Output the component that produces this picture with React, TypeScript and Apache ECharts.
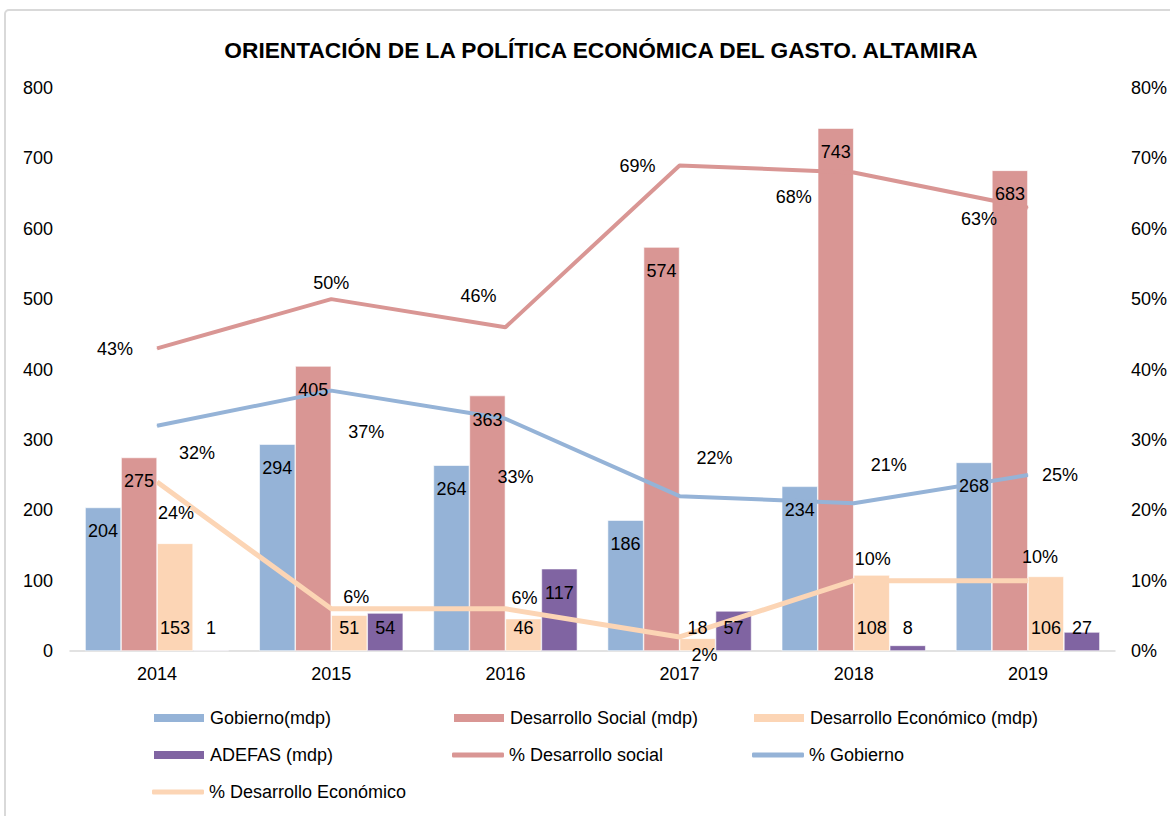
import React, { useEffect, useRef } from "react";
import * as echarts from "echarts";

const years = ["2014", "2015", "2016", "2017", "2018", "2019"];
const gobierno = [204, 294, 264, 186, 234, 268];
const social = [275, 405, 363, 574, 743, 683];
const economico = [153, 51, 46, 18, 108, 106];
const adefas = [1, 54, 117, 57, 8, 27];
const pctSocial = [43, 50, 46, 69, 68, 63];
const pctGobierno = [32, 37, 33, 22, 21, 25];
const pctEconomico = [24, 6, 6, 2, 10, 10];

// label offsets (styling only)
const offSocial = [[-42, 1], [0, -16], [-27, -31], [-42, 1], [-60, 25], [-49, 11]];
const offGobierno = [[40, 27], [35, 41], [10, 58], [35, -38], [35, -38], [32, 0]];
const offEconomico = [[19, 31], [25, -12], [19, -11], [25, 18], [19, -22], [12, -24]];

const C_GOB = "#95B3D7";
const C_SOC = "#D99694";
const C_ECO = "#FCD5B5";
const C_ADE = "#8064A2";
const FONT = "'Liberation Sans', Arial, sans-serif";
const FS = 18;

export default function App() {
  const ref = useRef<HTMLDivElement>(null);
  useEffect(() => {
    if (!ref.current) return;
    const chart = echarts.init(ref.current, null, { renderer: "svg" });
    const lbl = { color: "#000", fontSize: FS, fontFamily: FONT };
    const barBase = (name: string, color: string, data: number[]) => ({
      name,
      type: "bar",
      data,
      barWidth: 36,
      barGap: "0%",
      itemStyle: { color, borderColor: "#fff", borderWidth: 0.6 },
      label: { show: false },
    });
    // transparent twin bars on a hidden axis carrying the value labels above the lines
    const labelBar = (id: string, data: any[], pos: string, dist: number) => ({
      id,
      type: "bar",
      xAxisIndex: 1,
      data,
      barWidth: 36,
      barGap: "0%",
      silent: true,
      z: 10,
      itemStyle: { color: "rgba(0,0,0,0)", borderWidth: 0 },
      label: { show: true, position: pos, distance: dist, ...lbl },
      tooltip: { show: false },
    });
    const lineBase = (name: string, color: string, vals: number[], offs: number[][], width: number) => ({
      name,
      type: "line",
      yAxisIndex: 1,
      data: vals.map((v, i) => ({ value: v, label: { offset: offs[i] } })),
      symbol: "circle",
      symbolSize: 1,
      itemStyle: { color },
      lineStyle: { color, width },
      label: { show: true, position: "inside", formatter: "{c}%", ...lbl },
      z: 5,
    });
    const legendItem = (name: string, left: number, top: number, icon: string, h: number) => ({
      left,
      top: top - 10,
      padding: 0,
      itemWidth: 52,
      itemHeight: h,
      selectedMode: false,
      textStyle: { color: "#000", fontSize: FS, fontFamily: FONT, lineHeight: 20 },
      data: [{ name, icon }],
    });
    chart.setOption({
      animation: false,
      backgroundColor: "#fff",
      title: {
        text: "ORIENTACIÓN DE LA POLÍTICA ECONÓMICA DEL GASTO. ALTAMIRA",
        left: 596,
        textAlign: "center",
        top: 33,
        textStyle: { fontSize: 22.7, fontWeight: "bold", color: "#000", fontFamily: FONT },
      },
      graphic: [
        {
          type: "rect",
          shape: { x: 5, y: 10, width: 1200, height: 900, r: 4 },
          style: { fill: "none", stroke: "#d9d9d9", lineWidth: 2 },
          silent: true,
          z: -10,
        },
      ],
      legend: [
        legendItem("Gobierno(mdp)", 152, 718, "rect", 10),
        legendItem("Desarrollo Social (mdp)", 452, 718, "rect", 10),
        legendItem("Desarrollo Económico (mdp)", 752, 718, "rect", 10),
        legendItem("ADEFAS (mdp)", 152, 755, "rect", 10),
        legendItem("% Desarrollo social", 452, 755, "roundRect", 5),
        legendItem("% Gobierno", 752, 755, "roundRect", 5),
        legendItem("% Desarrollo Económico", 152, 792, "roundRect", 5),
      ],
      grid: { left: 70, right: 55, top: 88, height: 563 },
      xAxis: [
        {
          type: "category",
          data: years,
          axisLine: { lineStyle: { color: "#d9d9d9", width: 1.5 } },
          axisTick: { show: false },
          axisLabel: { color: "#000", fontSize: FS, fontFamily: FONT, margin: 14 },
        },
        {
          type: "category",
          data: years,
          show: false,
          position: "bottom",
        },
      ],
      yAxis: [
        {
          type: "value",
          min: 0,
          max: 800,
          interval: 100,
          splitLine: { show: false },
          axisLine: { show: false },
          axisTick: { show: false },
          axisLabel: { color: "#000", fontSize: FS, fontFamily: FONT, margin: 17 },
        },
        {
          type: "value",
          min: 0,
          max: 80,
          interval: 10,
          splitLine: { show: false },
          axisLine: { show: false },
          axisTick: { show: false },
          axisLabel: { color: "#000", fontSize: FS, fontFamily: FONT, margin: 16, formatter: "{value}%" },
        },
      ],
      series: [
        barBase("Gobierno(mdp)", C_GOB, gobierno),
        barBase("Desarrollo Social (mdp)", C_SOC, social),
        barBase("Desarrollo Económico (mdp)", C_ECO, economico),
        barBase("ADEFAS (mdp)", C_ADE, adefas),
        lineBase("% Desarrollo social", C_SOC, pctSocial, offSocial, 4),
        lineBase("% Gobierno", C_GOB, pctGobierno, offGobierno, 4),
        lineBase("% Desarrollo Económico", C_ECO, pctEconomico, offEconomico, 5),
        labelBar("lblGob", gobierno, "insideTop", 15),
        labelBar("lblSoc", social, "insideTop", 15),
        labelBar("lblEco", economico, "insideBottom", 14),
        labelBar(
          "lblAde",
          adefas.map((v) => (v > 100 ? { value: v, label: { position: "insideTop", distance: 15 } } : v)),
          "insideBottom",
          14
        ),
      ],
    });
    return () => chart.dispose();
  }, []);
  return <div ref={ref} style={{ position: "absolute", left: 0, top: 0, width: 1170, height: 816 }} />;
}
